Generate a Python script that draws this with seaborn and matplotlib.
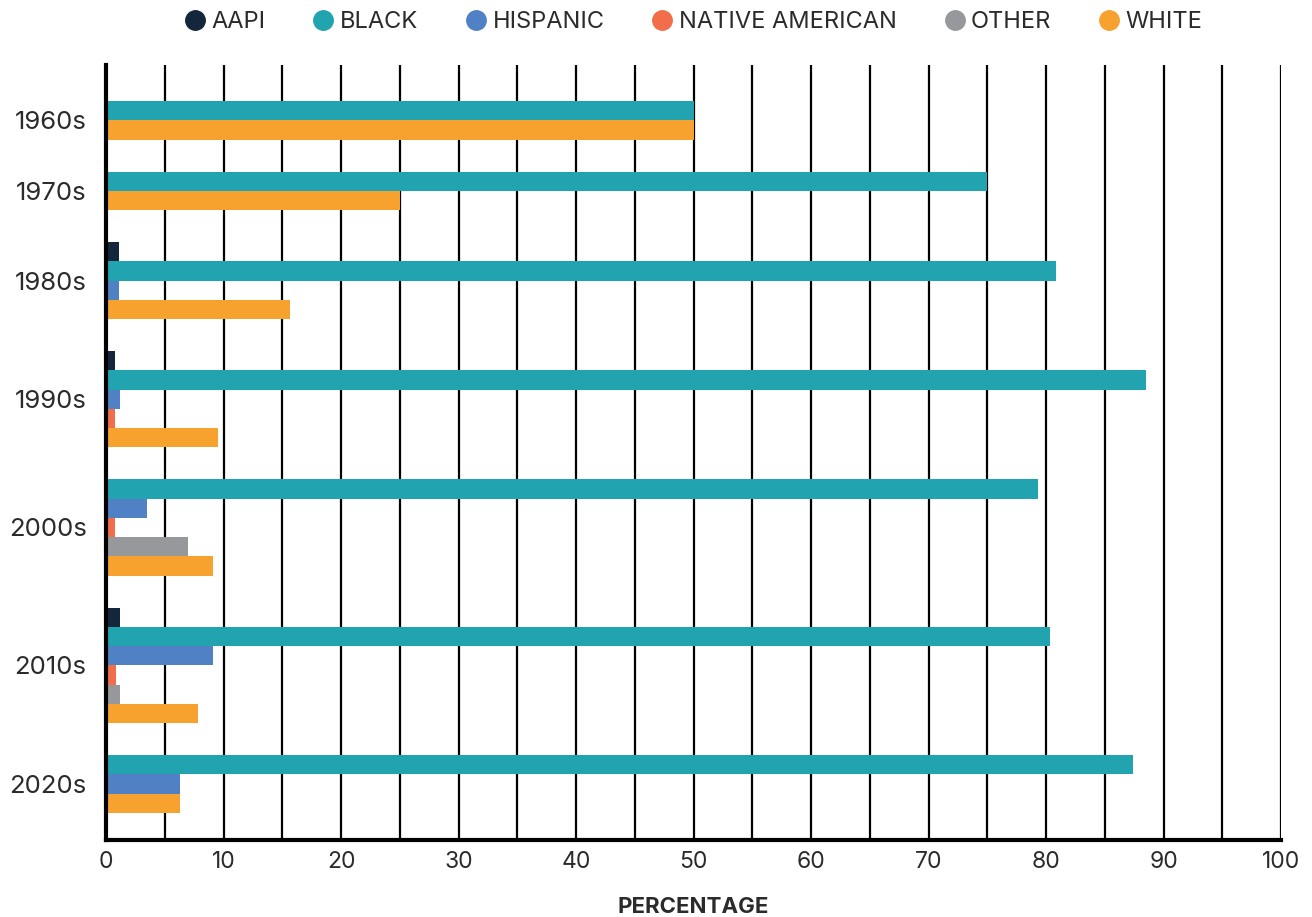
import pandas as pd
import matplotlib.pyplot as plt
from matplotlib.lines import Line2D
from matplotlib.ticker import MultipleLocator
import seaborn as sns

# values (percent of players per decade)
decades = ['1960s', '1970s', '1980s', '1990s', '2000s', '2010s', '2020s']
groups = ['AAPI', 'BLACK', 'HISPANIC', 'NATIVE AMERICAN', 'OTHER', 'WHITE']
aapi = [0, 0, 1.1, 0.75, 0, 1.2, 0]
black = [50, 75, 80.85, 88.5, 79.3, 80.3, 87.4]
hispanic = [0, 0, 1.1, 1.2, 3.5, 9.1, 6.3]
native = [0, 0, 0, 0.75, 0.75, 0.85, 0]
other = [0, 0, 0, 0, 7.0, 1.2, 0]
white = [50, 25, 15.7, 9.5, 9.1, 7.8, 6.3]
colors = ['#13263b', '#21a3b0', '#4f81c4', '#f26e4b', '#97989c', '#f7a22f']

series = dict(zip(groups, [aapi, black, hispanic, native, other, white]))

# each decade only shows the groups it has; groups are stacked with a gap
gap = 1.65
rows = []
centers = []
pos = 0.0
for i, dec in enumerate(decades):
    start = pos
    for g in groups:
        v = series[g][i]
        if v > 0:
            rows.append({'decade': dec, 'group': g, 'value': v, 'pos': pos})
            pos += 1
    centers.append((start + pos - 1) / 2)
    pos += gap
df = pd.DataFrame(rows)

sns.set_style('white')
plt.rcParams['font.family'] = ['Inter', 'DejaVu Sans']
text_col = '#2b2b2b'

fig = plt.figure(figsize=(13.12, 9.17), dpi=100)
ax = fig.add_axes([0.0808, 0.084, 0.8956, 0.845])

sns.barplot(data=df, x='value', y='pos', hue='group', hue_order=groups,
            palette=colors, saturation=1, orient='h', native_scale=True,
            width=1.0, dodge=False, legend=False, ax=ax, linewidth=0, zorder=3)

ax.set_xlim(0, 100)
ax.set_ylim(df['pos'].max() + 0.5 + 27 / 19.3, -0.5 - 36 / 19.3)
ax.xaxis.set_major_locator(MultipleLocator(10))
ax.xaxis.set_minor_locator(MultipleLocator(5))
ax.grid(axis='x', which='both', color='black', linewidth=1.6, zorder=0)
ax.set_axisbelow(True)
ax.set_yticks(centers)
ax.set_yticklabels(decades)
ax.tick_params(axis='y', length=0, labelsize=18.5, labelcolor=text_col, pad=14)
ax.tick_params(axis='x', which='both', length=0, labelsize=16.5, labelcolor=text_col, pad=8)
ax.set_xlabel('PERCENTAGE', fontsize=16, fontweight='bold', color=text_col, labelpad=17)
ax.set_ylabel('')

for s in ['top', 'right']:
    ax.spines[s].set_visible(False)
for s in ['left', 'bottom']:
    ax.spines[s].set_color('black')
    ax.spines[s].set_linewidth(3)
    ax.spines[s].set_zorder(4)

handles = [Line2D([0], [0], marker='o', linestyle='', markersize=14,
                  markerfacecolor=c, markeredgecolor=c) for c in colors]
fig.legend(handles, groups, loc='center', bbox_to_anchor=(0.529, 0.976), ncol=6,
           frameon=False, fontsize=17, handlelength=0.8, handletextpad=0.3,
           columnspacing=2.05, labelcolor=text_col)

fig.savefig('out.png', dpi=100)
